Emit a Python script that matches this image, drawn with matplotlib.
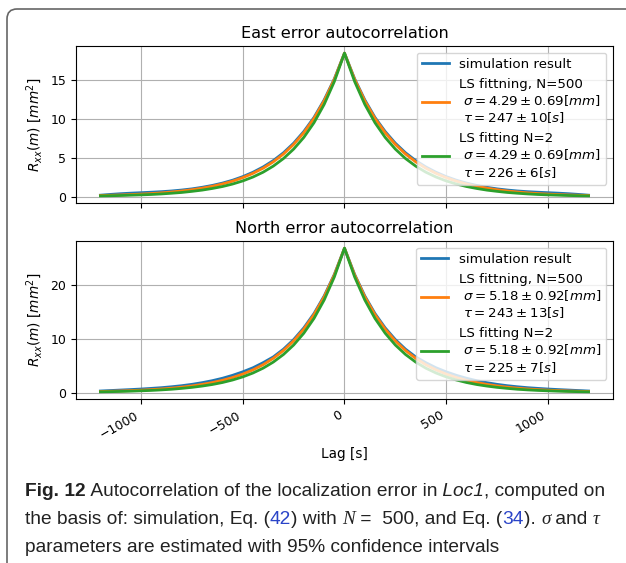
import matplotlib
matplotlib.use('Agg')
import matplotlib.pyplot as plt
from matplotlib.patches import FancyBboxPatch
from matplotlib.ticker import MultipleLocator
import numpy as np

# one-sided lags (autocorrelation is symmetric)
lags_half = list(range(0, 1250, 50))

east_sim = [18.40, 15.10, 12.40, 10.15, 8.35, 6.85, 5.62, 4.62, 3.80, 3.12, 2.56, 2.10, 1.73,
            1.43, 1.19, 0.99, 0.84, 0.72, 0.63, 0.56, 0.50, 0.44, 0.37, 0.28, 0.18]
east_n500 = [18.40, 15.03, 12.27, 10.02, 8.19, 6.69, 5.46, 4.46, 3.64, 2.98, 2.43, 1.98, 1.62,
             1.32, 1.08, 0.88, 0.72, 0.59, 0.48, 0.39, 0.32, 0.26, 0.21, 0.17, 0.14]
east_n2 = [18.40, 14.75, 11.82, 9.47, 7.59, 6.09, 4.88, 3.91, 3.13, 2.51, 2.01, 1.61, 1.29,
           1.04, 0.83, 0.67, 0.53, 0.43, 0.34, 0.27, 0.22, 0.18, 0.14, 0.11, 0.09]

north_sim = [26.83, 21.95, 17.95, 14.68, 12.02, 9.84, 8.06, 6.62, 5.55, 4.60, 3.85, 3.20, 2.65,
             2.20, 1.83, 1.52, 1.27, 1.07, 0.90, 0.77, 0.65, 0.55, 0.46, 0.37, 0.28]
north_n500 = [26.83, 21.84, 17.78, 14.47, 11.78, 9.59, 7.81, 6.36, 5.17, 4.21, 3.43, 2.79, 2.27,
              1.85, 1.51, 1.23, 1.00, 0.81, 0.66, 0.54, 0.44, 0.36, 0.29, 0.24, 0.19]
north_n2 = [26.83, 21.48, 17.20, 13.77, 11.03, 8.83, 7.07, 5.66, 4.53, 3.63, 2.91, 2.33, 1.86,
            1.49, 1.20, 0.96, 0.77, 0.61, 0.49, 0.39, 0.32, 0.25, 0.20, 0.16, 0.13]

east_labels = ['simulation result',
               'LS fittning, N=500\n $\\sigma = 4.29 \\pm 0.69 [mm]$\n $\\tau = 247 \\pm 10 [s]$',
               'LS fitting N=2\n $\\sigma = 4.29 \\pm 0.69 [mm]$\n $\\tau = 226 \\pm 6 [s]$']
north_labels = ['simulation result',
                'LS fittning, N=500\n $\\sigma = 5.18 \\pm 0.92 [mm]$\n $\\tau = 243 \\pm 13 [s]$',
                'LS fitting N=2\n $\\sigma = 5.18 \\pm 0.92 [mm]$\n $\\tau = 225 \\pm 7 [s]$']


def full(v):
    v = np.asarray(v)
    return np.concatenate([v[::-1], v[1:]])


lags = np.concatenate([-np.asarray(lags_half[::-1]), np.asarray(lags_half[1:])])

fig = plt.figure(figsize=(6.26, 5.63), dpi=100)
ax1 = fig.add_axes([0.1214, 0.6394, 0.8578, 0.2789])
ax2 = fig.add_axes([0.1214, 0.2913, 0.8578, 0.2806], sharex=ax1)

for ax, series, labels, title in [
        (ax1, (east_sim, east_n500, east_n2), east_labels, 'East error autocorrelation'),
        (ax2, (north_sim, north_n500, north_n2), north_labels, 'North error autocorrelation')]:
    for s, lab in zip(series, labels):
        ax.plot(lags, full(s), lw=2, label=lab)
    ax.grid(True)
    ax.set_title(title, fontsize=11.6)
    ax.set_ylabel('$R_{xx}(m)\\ [mm^2]$', fontsize=9.8)
    ax.tick_params(labelsize=9)
    ax.legend(loc='upper right', fontsize=9.6, labelspacing=0.5)

ax1.set_xticks([-1000, -500, 0, 500, 1000])
ax1.yaxis.set_major_locator(MultipleLocator(5))
ax2.yaxis.set_major_locator(MultipleLocator(10))
plt.setp(ax1.get_xticklabels(), visible=False)
plt.setp(ax2.get_xticklabels(), rotation=30, ha='right')
ax2.set_xlabel('Lag [s]', fontsize=9.8)

# journal frame
frame = FancyBboxPatch((0.07, -0.5), 7.0, 5.54 + 0.5, boxstyle='round,pad=0,rounding_size=0.1',
                       transform=fig.dpi_scale_trans, fill=False, edgecolor='#666666', lw=1.2,
                       clip_on=False)
fig.add_artist(frame)

# caption, drawn piece by piece
cap_font = ['Liberation Sans', 'DejaVu Sans']
base = dict(fontsize=13.8, color='#222222', family=cap_font, va='baseline')
blue = '#2a44c8'
serif_it = dict(family=['Liberation Serif', 'DejaVu Serif'], style='italic')
renderer = fig.canvas.get_renderer()


def caption_line(y, pieces, x0=25 / 626):
    x = x0
    for s, kw in pieces:
        opts = dict(base)
        opts.update(kw)
        t = fig.text(x, y, s, **opts)
        x += t.get_window_extent(renderer).width / fig.bbox.width


caption_line(1 - 496 / 563, [('Fig. 12', dict(weight='bold')),
                             (' Autocorrelation of the localization error in', {}),
                             (' Loc1', dict(style='italic')),
                             (', computed on', {})])
caption_line(1 - 524 / 563, [('the basis of: simulation, Eq. (', {}), ('42', dict(color=blue)),
                             (') with ', {}), ('N', serif_it), (' =  500, and Eq. (', {}),
                             ('34', dict(color=blue)), ('). ', {}), ('σ', serif_it),
                             (' and ', {}), ('τ', serif_it)])
caption_line(1 - 552 / 563, [('parameters are estimated with 95% confidence intervals', {})])

plt.savefig('out.png', dpi=100)
